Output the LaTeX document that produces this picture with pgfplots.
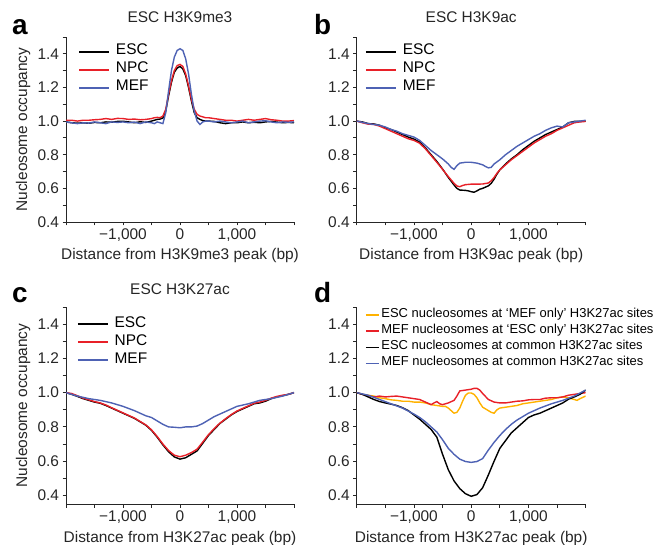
\documentclass[border=0pt]{standalone}
\usepackage{fontspec}
\setmainfont{Liberation Sans}
\usepackage{pgfplots}
\pgfplotsset{compat=1.18}
\definecolor{cred}{RGB}{232,32,40}
\definecolor{cblue}{RGB}{78,98,180}
\definecolor{corange}{RGB}{255,178,0}
\newcommand{\fs}{\fontsize{15.5}{18}\selectfont}
\newcommand{\fsl}{\fontsize{13}{15}\selectfont}
\pgfplotsset{
  panel/.style={
    scale only axis, width=228bp,
    xmin=-2000, xmax=2000,
    axis x line*=bottom, axis y line*=left,
    axis line style={line width=0.9bp, black!85},
    every tick/.style={line width=0.9bp, black!85},
    tick align=outside,
    major tick length=3.5bp, minor tick length=3.5bp,
    xtick={-1000,0,1000}, xticklabels={{−1,000},{0},{1,000}},
    minor xtick={-2000,-1500,-500,500,1500,2000},
    ytick={0.4,0.6,0.8,1.0,1.2,1.4}, yticklabels={0.4,0.6,0.8,1.0,1.2,1.4},
    minor ytick={0.5,0.7,0.9,1.1,1.3,1.5},
    tick label style={font=\fs, text=black!85},
    label style={font=\fs, text=black!85},
    title style={font=\fs, text=black!85, at={(0.5,1)}, anchor=base, yshift=9bp},
    xlabel style={at={(0.5,0)}, anchor=base, yshift=-38bp},
    ylabel style={at={(axis description cs:-0.171,0.5)}, anchor=base, rotate=0},
    every axis plot/.append style={line width=1.4bp, no markers},
    legend cell align=left,
    legend image code/.code={\draw[#1,line width=1.7bp] (0bp,0bp) -- (30bp,0bp);},
    legend style={draw=none, fill=none, inner sep=0pt, font=\fs, row sep=0bp, column sep=5bp,
      nodes={inner sep=1bp, text height=11bp, text depth=5bp}},
  },
}
\begin{document}
\begin{tikzpicture}
\useasboundingbox (0bp,0bp) rectangle (659bp,545bp);
% ---------------- a
\begin{axis}[panel, at={(66bp,323bp)}, anchor=south west, height=185bp, ymin=0.4, ymax=1.5,
  title={ESC H3K9me3}, xlabel={Distance from H3K9me3 peak (bp)}, ylabel={Nucleosome occupancy},
  legend style={at={(axis description cs:0.053,0.97)}, anchor=north west}]
\addplot[black] coordinates {(-2000,0.995) (-1900,0.99) (-1800,0.988) (-1700,0.99) (-1600,0.987) (-1500,0.992) (-1400,0.99) (-1300,0.995) (-1200,0.993) (-1100,0.998) (-1000,0.999) (-900,0.995) (-800,0.99) (-700,0.996) (-600,0.992) (-500,1.0) (-450,1.005) (-400,1.01) (-350,1.012) (-300,1.018) (-250,1.06) (-200,1.15) (-150,1.23) (-100,1.29) (-50,1.315) (0,1.325) (50,1.31) (100,1.27) (150,1.2) (200,1.12) (250,1.05) (300,1.02) (350,1.01) (400,1.003) (450,1.0) (500,1.0) (600,0.998) (700,0.99) (800,0.985) (900,0.99) (1000,0.99) (1100,0.995) (1200,0.99) (1300,0.993) (1400,0.99) (1500,0.995) (1600,0.998) (1700,0.994) (1800,0.99) (1900,0.992) (2000,0.99)};
\addplot[cred] coordinates {(-2000,1.005) (-1900,1.005) (-1800,1.0) (-1700,1.005) (-1600,1.005) (-1500,1.008) (-1400,1.01) (-1300,1.015) (-1200,1.01) (-1100,1.016) (-1000,1.015) (-900,1.01) (-800,1.012) (-700,1.008) (-600,1.01) (-500,1.015) (-450,1.02) (-400,1.022) (-350,1.02) (-300,1.03) (-250,1.07) (-200,1.16) (-150,1.24) (-100,1.3) (-50,1.33) (0,1.337) (50,1.325) (100,1.28) (150,1.21) (200,1.13) (250,1.07) (300,1.04) (350,1.03) (400,1.025) (450,1.02) (500,1.02) (600,1.015) (700,1.01) (800,1.005) (900,1.005) (1000,1.0) (1100,1.005) (1200,1.01) (1300,1.005) (1400,1.01) (1500,1.015) (1600,1.008) (1700,1.005) (1800,1.0) (1900,1.0) (2000,1.003)};
\addplot[cblue] coordinates {(-2000,0.995) (-1900,0.99) (-1800,0.985) (-1700,0.99) (-1600,0.988) (-1500,0.995) (-1400,0.99) (-1300,0.985) (-1200,0.995) (-1100,0.992) (-1000,0.995) (-900,0.99) (-800,0.994) (-700,0.985) (-600,0.995) (-500,0.99) (-450,0.985) (-400,0.995) (-350,0.99) (-300,0.985) (-250,1.05) (-200,1.18) (-150,1.3) (-100,1.38) (-50,1.42) (0,1.43) (50,1.42) (100,1.37) (150,1.28) (200,1.16) (250,1.06) (300,1.0) (350,0.98) (400,0.995) (450,1.0) (500,1.0) (600,0.995) (700,1.0) (800,0.995) (900,0.99) (1000,0.995) (1100,1.0) (1200,0.99) (1300,0.995) (1400,1.0) (1500,1.002) (1600,0.995) (1700,0.99) (1800,0.995) (1900,0.993) (2000,0.995)};
\legend{ESC,NPC,MEF}
\end{axis}
% ---------------- b
\begin{axis}[panel, at={(356.7bp,323bp)}, anchor=south west, width=229bp, height=185bp, ymin=0.4, ymax=1.5,
  title={ESC H3K9ac}, xlabel={Distance from H3K9ac peak (bp)},
  legend style={at={(axis description cs:0.036,0.97)}, anchor=north west}]
\addplot[black] coordinates {(-2000,1.0) (-1900,0.995) (-1800,0.985) (-1700,0.983) (-1600,0.975) (-1500,0.96) (-1400,0.95) (-1300,0.935) (-1200,0.92) (-1100,0.905) (-1000,0.893) (-900,0.875) (-800,0.84) (-700,0.8) (-600,0.76) (-500,0.715) (-400,0.665) (-300,0.62) (-250,0.6) (-200,0.59) (-100,0.588) (-50,0.585) (0,0.58) (50,0.577) (100,0.585) (150,0.595) (200,0.6) (300,0.615) (350,0.63) (400,0.655) (450,0.685) (500,0.71) (600,0.745) (700,0.775) (800,0.8) (900,0.83) (1000,0.855) (1100,0.88) (1200,0.9) (1300,0.92) (1400,0.935) (1500,0.95) (1600,0.965) (1700,0.99) (1800,0.998) (1900,0.998) (2000,1.0)};
\addplot[cred] coordinates {(-2000,1.0) (-1900,0.99) (-1800,0.982) (-1700,0.98) (-1600,0.97) (-1500,0.955) (-1400,0.94) (-1300,0.925) (-1200,0.91) (-1100,0.895) (-1000,0.885) (-900,0.868) (-800,0.835) (-700,0.795) (-600,0.755) (-500,0.713) (-400,0.67) (-300,0.63) (-250,0.614) (-200,0.61) (-150,0.617) (-100,0.622) (0,0.625) (100,0.625) (200,0.626) (300,0.632) (350,0.645) (400,0.665) (450,0.69) (500,0.71) (600,0.74) (700,0.77) (800,0.795) (900,0.82) (1000,0.845) (1100,0.87) (1200,0.89) (1300,0.91) (1400,0.925) (1500,0.945) (1600,0.96) (1700,0.975) (1800,0.99) (1900,0.995) (2000,0.998)};
\addplot[cblue] coordinates {(-2000,1.0) (-1800,0.985) (-1600,0.975) (-1500,0.965) (-1400,0.95) (-1300,0.94) (-1200,0.925) (-1100,0.915) (-1000,0.905) (-900,0.885) (-800,0.855) (-700,0.825) (-600,0.8) (-500,0.775) (-400,0.745) (-350,0.725) (-300,0.713) (-250,0.735) (-200,0.75) (-100,0.755) (0,0.755) (100,0.75) (200,0.74) (250,0.73) (300,0.722) (350,0.725) (400,0.745) (500,0.77) (600,0.8) (700,0.825) (800,0.85) (900,0.87) (1000,0.89) (1100,0.91) (1200,0.925) (1300,0.945) (1400,0.96) (1500,0.97) (1600,0.965) (1700,0.99) (1800,0.995) (1900,1.0) (2000,1.005)};
\legend{ESC,NPC,MEF}
\end{axis}
% ---------------- c
\begin{axis}[panel, at={(66bp,41bp)}, anchor=south west, height=197bp, ymin=0.35, ymax=1.5,
  title={ESC H3K27ac}, title style={yshift=-2bp}, xlabel={Distance from H3K27ac peak (bp)}, ylabel={Nucleosome occupancy},
  legend style={at={(axis description cs:0.047,0.96)}, anchor=north west}]
\addplot[black] coordinates {(-2000,1.0) (-1900,0.99) (-1800,0.978) (-1700,0.965) (-1600,0.955) (-1500,0.945) (-1400,0.938) (-1300,0.925) (-1200,0.91) (-1100,0.895) (-1000,0.88) (-900,0.865) (-800,0.85) (-700,0.83) (-600,0.81) (-500,0.78) (-400,0.74) (-300,0.695) (-200,0.655) (-100,0.625) (0,0.612) (100,0.62) (200,0.64) (300,0.66) (400,0.705) (500,0.75) (600,0.785) (700,0.82) (800,0.845) (900,0.87) (1000,0.89) (1100,0.905) (1200,0.92) (1300,0.935) (1400,0.94) (1500,0.95) (1600,0.965) (1700,0.975) (1800,0.982) (1900,0.99) (2000,1.0)};
\addplot[cred] coordinates {(-2000,1.0) (-1900,0.995) (-1800,0.982) (-1700,0.968) (-1600,0.958) (-1500,0.948) (-1400,0.94) (-1300,0.928) (-1200,0.912) (-1100,0.897) (-1000,0.882) (-900,0.867) (-800,0.852) (-700,0.832) (-600,0.812) (-500,0.783) (-400,0.744) (-300,0.7) (-200,0.662) (-100,0.635) (0,0.626) (100,0.635) (200,0.65) (300,0.67) (400,0.712) (500,0.755) (600,0.79) (700,0.822) (800,0.848) (900,0.872) (1000,0.893) (1100,0.908) (1200,0.923) (1300,0.938) (1400,0.945) (1500,0.955) (1600,0.968) (1700,0.978) (1800,0.985) (1900,0.99) (2000,1.0)};
\addplot[cblue] coordinates {(-2000,1.0) (-1800,0.98) (-1600,0.965) (-1400,0.955) (-1200,0.94) (-1000,0.92) (-800,0.895) (-600,0.865) (-500,0.855) (-400,0.835) (-300,0.815) (-200,0.8) (-100,0.798) (0,0.795) (100,0.8) (200,0.8) (300,0.805) (400,0.82) (500,0.84) (600,0.86) (700,0.875) (800,0.89) (900,0.905) (1000,0.92) (1200,0.935) (1400,0.955) (1600,0.965) (1800,0.98) (2000,1.0)};
\legend{ESC,NPC,MEF}
\end{axis}
% ---------------- d
\begin{axis}[panel, at={(356.7bp,41bp)}, anchor=south west, width=229bp, height=197bp, ymin=0.35, ymax=1.5,
  xlabel={Distance from H3K27ac peak (bp)},
  legend image code/.code={\draw[#1,line width=1.7bp] (0bp,0bp) -- (13bp,0bp);},
  legend style={at={(axis description cs:0.035,1.0)}, anchor=north west, font=\fsl, column sep=1bp,
    nodes={inner sep=0.8bp, text height=9.5bp, text depth=5bp}}]
\addplot[corange] coordinates {(-2000,1.0) (-1900,0.99) (-1800,0.985) (-1700,0.98) (-1600,0.97) (-1500,0.965) (-1400,0.958) (-1300,0.955) (-1200,0.95) (-1100,0.95) (-1000,0.945) (-900,0.945) (-800,0.94) (-700,0.93) (-600,0.925) (-500,0.92) (-450,0.92) (-400,0.91) (-350,0.895) (-300,0.88) (-250,0.885) (-200,0.91) (-150,0.95) (-100,0.985) (-50,0.998) (0,0.998) (50,0.99) (100,0.97) (150,0.94) (200,0.915) (250,0.905) (300,0.895) (350,0.885) (400,0.88) (450,0.9) (500,0.91) (600,0.915) (700,0.92) (800,0.925) (900,0.935) (1000,0.94) (1100,0.945) (1200,0.95) (1300,0.955) (1400,0.96) (1500,0.97) (1600,0.975) (1700,0.97) (1800,0.96) (1850,0.955) (1900,0.965) (2000,0.98)};
\addplot[cred] coordinates {(-2000,1.0) (-1900,0.99) (-1800,0.982) (-1700,0.975) (-1600,0.98) (-1500,0.975) (-1400,0.978) (-1300,0.98) (-1200,0.975) (-1100,0.97) (-1000,0.965) (-900,0.96) (-800,0.945) (-700,0.93) (-650,0.94) (-600,0.948) (-550,0.935) (-500,0.93) (-400,0.94) (-300,0.955) (-250,0.98) (-200,1.01) (-100,1.015) (0,1.02) (50,1.025) (100,1.025) (150,1.015) (200,0.995) (300,0.96) (400,0.945) (500,0.94) (600,0.94) (700,0.945) (800,0.95) (900,0.952) (1000,0.958) (1100,0.96) (1200,0.96) (1300,0.968) (1400,0.97) (1500,0.97) (1600,0.975) (1700,0.985) (1800,0.99) (1900,0.995) (2000,1.0)};
\addplot[black] coordinates {(-2000,1.0) (-1900,0.99) (-1800,0.975) (-1700,0.96) (-1600,0.948) (-1500,0.94) (-1400,0.933) (-1300,0.925) (-1200,0.912) (-1100,0.895) (-1000,0.87) (-900,0.845) (-800,0.815) (-700,0.785) (-600,0.74) (-500,0.64) (-400,0.55) (-300,0.485) (-200,0.44) (-100,0.41) (0,0.395) (100,0.405) (200,0.445) (300,0.52) (400,0.6) (500,0.675) (600,0.72) (700,0.765) (800,0.795) (900,0.825) (1000,0.855) (1100,0.87) (1200,0.88) (1300,0.895) (1400,0.91) (1500,0.925) (1600,0.94) (1700,0.962) (1800,0.975) (1900,0.99) (2000,1.015)};
\addplot[cblue] coordinates {(-2000,1.0) (-1800,0.985) (-1600,0.96) (-1400,0.935) (-1200,0.91) (-1000,0.875) (-900,0.855) (-800,0.83) (-700,0.8) (-600,0.77) (-500,0.725) (-400,0.675) (-300,0.64) (-200,0.612) (-100,0.598) (0,0.593) (100,0.598) (200,0.615) (300,0.665) (400,0.71) (500,0.75) (600,0.785) (700,0.815) (800,0.84) (900,0.86) (1000,0.88) (1100,0.895) (1200,0.91) (1400,0.935) (1600,0.955) (1800,0.98) (2000,1.015)};
\legend{ESC nucleosomes at ‘MEF only’ H3K27ac sites, MEF nucleosomes at ‘ESC only’ H3K27ac sites, ESC nucleosomes at common H3K27ac sites, MEF nucleosomes at common H3K27ac sites}
\end{axis}
% panel letters
\node[font=\bfseries\fontsize{28}{28}\selectfont, anchor=base west, inner sep=0] at (12bp,510bp) {a};
\node[font=\bfseries\fontsize{28}{28}\selectfont, anchor=base west, inner sep=0] at (314bp,510bp) {b};
\node[font=\bfseries\fontsize{28}{28}\selectfont, anchor=base west, inner sep=0] at (12bp,242bp) {c};
\node[font=\bfseries\fontsize{28}{28}\selectfont, anchor=base west, inner sep=0] at (314bp,242bp) {d};
\end{tikzpicture}
\end{document}
